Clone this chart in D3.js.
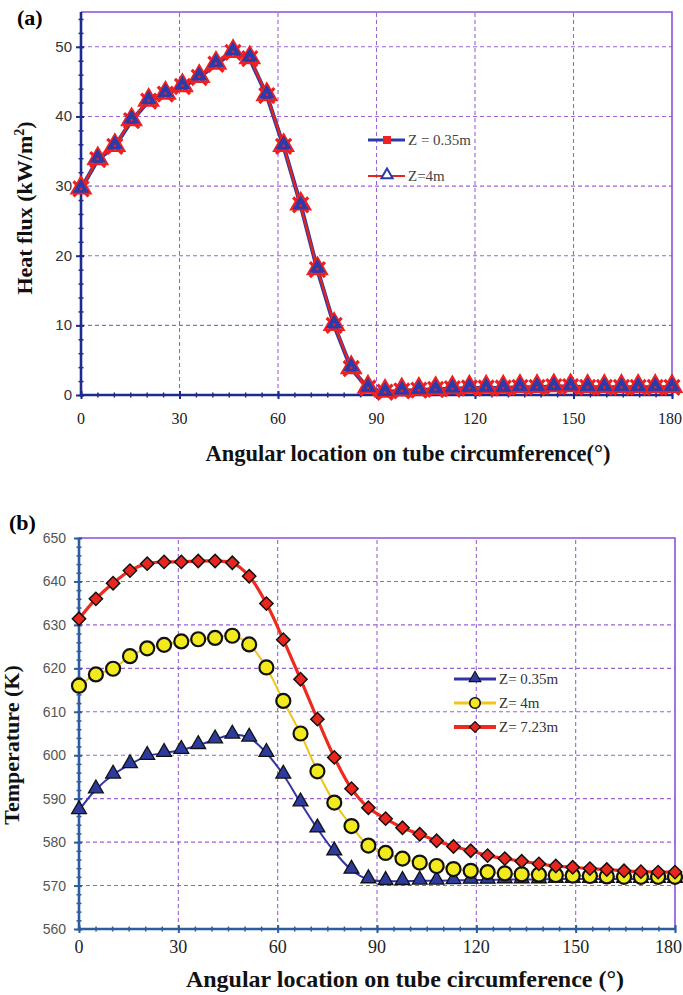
<!DOCTYPE html>
<html><head><meta charset="utf-8">
<script src="https://cdn.jsdelivr.net/npm/d3@7"></script>
<style>body{margin:0;background:#fff}</style>
</head><body>
<svg id="c" width="683" height="995"></svg>
<script>
// ---- data ----
const angles = [0, 5.1, 10.3, 15.4, 20.6, 25.7, 30.9, 36, 41.1, 46.3, 51.4, 56.6, 61.7, 66.9, 72, 77.1, 82.3, 87.4,
  92.6, 97.7, 102.9, 108, 113.1, 118.3, 123.4, 128.6, 133.7, 138.9, 144, 149.1, 154.3, 159.4, 164.6, 169.7, 174.9, 180];
const fluxZ035 = [29.6, 33.8, 35.7, 39.4, 42.2, 43.2, 44.3, 45.6, 47.5, 49.2, 48.3, 43.0, 35.7, 27.3, 18.0, 10.0, 3.8, 1.0,
  0.4, 0.6, 0.7, 0.8, 0.9, 1.0, 1.0, 1.0, 1.1, 1.1, 1.2, 1.2, 1.1, 1.1, 1.1, 1.1, 1.1, 1.1];
const fluxZ4 = [29.6, 33.9, 35.8, 39.5, 42.3, 43.3, 44.4, 45.7, 47.6, 49.3, 48.4, 43.1, 35.8, 27.2, 18.1, 10.1, 3.9, 1.0,
  0.4, 0.6, 0.7, 0.8, 0.9, 1.0, 1.0, 1.0, 1.1, 1.1, 1.2, 1.2, 1.1, 1.1, 1.1, 1.1, 1.1, 1.1];
const tempZ035 = [587.3, 592.1, 595.5, 597.9, 599.8, 600.5, 601.2, 602.3, 603.6, 604.7, 604.0, 600.5, 595.5, 589.1, 583.1,
  577.8, 573.6, 571.4, 571.0, 571.0, 571.1, 571.1, 571.2, 571.3, 571.3, 571.4, 571.4, 571.4, 571.5, 571.5, 571.5, 571.5,
  571.5, 571.5, 571.5, 571.5];
const tempZ4 = [616.0, 618.6, 619.9, 622.8, 624.6, 625.4, 626.2, 626.7, 627.0, 627.5, 625.5, 620.2, 612.5, 605.0, 596.3,
  589.1, 583.7, 579.2, 577.5, 576.2, 575.3, 574.5, 573.8, 573.4, 573.1, 572.8, 572.6, 572.5, 572.4, 572.3, 572.2, 572.1,
  572.0, 572.0, 572.0, 572.0];
const tempZ723 = [631.4, 636.0, 639.6, 642.5, 644.1, 644.5, 644.5, 644.7, 644.7, 644.3, 641.2, 634.9, 626.6, 617.5, 608.3,
  599.5, 592.3, 587.9, 585.4, 583.3, 581.8, 580.3, 579.0, 578.0, 576.9, 576.2, 575.6, 575.0, 574.5, 574.2, 573.9, 573.7,
  573.4, 573.2, 573.1, 573.1];
const xTickLabels = [0, 30, 60, 90, 120, 150, 180];
const yTicksA = [0, 10, 20, 30, 40, 50];
const yTicksB = [560, 570, 580, 590, 600, 610, 620, 630, 640, 650];
const legendA = ["Z = 0.35m", "Z=4m"];
const legendB = ["Z= 0.35m", "Z= 4m", "Z= 7.23m"];

const svg = d3.select("#c");
const serif = "'Liberation Serif','Times New Roman',serif";
const sans = "'Liberation Sans',Arial,sans-serif";
const gridCol = "#9a62d6";

function minorTicks(lo, hi, step) { return d3.range(lo, hi + 1e-9, step); }

function frame(x, y, axisCol, yMinorStep, yTicks, ytickStyle) {
  const g = svg.append("g");
  xTickLabels.slice(1, -1).forEach(t => g.append("line").attr("x1", x(t)).attr("x2", x(t))
    .attr("y1", y.range()[0]).attr("y2", y.range()[1]).attr("stroke", gridCol).attr("stroke-width", 1.1).attr("stroke-dasharray", "4,3"));
  yTicks.slice(1).forEach(t => { if (y(t) > y.range()[1] + 2) g.append("line").attr("x1", x.range()[0]).attr("x2", x.range()[1])
    .attr("y1", y(t)).attr("y2", y(t)).attr("stroke", gridCol).attr("stroke-width", 1.1).attr("stroke-dasharray", "4,3"); });
  g.append("path").attr("d", `M${x.range()[0]},${y.range()[1]}H${x.range()[1]}V${y.range()[0]}`)
    .attr("fill", "none").attr("stroke", "#8a50dc").attr("stroke-width", 1.6);
  const xa = svg.append("g").attr("transform", `translate(0,${y.range()[0]})`)
    .call(d3.axisBottom(x).tickValues(minorTicks(0, 180, 5)).tickSize(2.5).tickFormat(""));
  xa.selectAll(".tick line").attr("y1", -2.5).attr("stroke", axisCol).attr("stroke-width", 1.5);
  const xa2 = svg.append("g").attr("transform", `translate(0,${y.range()[0]})`)
    .call(d3.axisBottom(x).tickValues(xTickLabels).tickSize(4).tickFormat(""));
  xa2.selectAll(".tick line").attr("y1", -4).attr("stroke", axisCol).attr("stroke-width", 2);
  xa.select(".domain").remove(); xa2.select(".domain").remove();
  const ya = svg.append("g").attr("transform", `translate(${x.range()[0]},0)`)
    .call(d3.axisLeft(y).tickValues(minorTicks(y.domain()[0], y.domain()[1], yMinorStep)).tickSize(2.5).tickFormat(""));
  ya.selectAll(".tick line").attr("x1", 2.5).attr("stroke", axisCol).attr("stroke-width", 1.5);
  const ya2 = svg.append("g").attr("transform", `translate(${x.range()[0]},0)`)
    .call(d3.axisLeft(y).tickValues(yTicks).tickSize(5).tickFormat(""));
  ya2.selectAll(".tick line").attr("x1", 3).attr("stroke", axisCol).attr("stroke-width", 2);
  ya.select(".domain").remove(); ya2.select(".domain").remove();
  svg.append("line").attr("x1", x.range()[0]).attr("x2", x.range()[0]).attr("y1", y.range()[1]).attr("y2", y.range()[0] + 1)
    .attr("stroke", axisCol).attr("stroke-width", 2.6);
  svg.append("line").attr("x1", x.range()[0] - 1).attr("x2", x.range()[1]).attr("y1", y.range()[0]).attr("y2", y.range()[0])
    .attr("stroke", axisCol).attr("stroke-width", 2.6);
  yTicks.forEach(t => svg.append("text").attr("x", ytickStyle.x).attr("y", y(t) + ytickStyle.dy)
    .attr("text-anchor", "end").attr("font-family", sans).attr("font-size", ytickStyle.size)
    .attr("fill", ytickStyle.fill).text(t));
}

function xLabels(x, yPos, size) {
  xTickLabels.forEach(t => {
    const tx = svg.append("text").attr("x", x(t)).attr("y", yPos).attr("text-anchor", "middle")
      .attr("font-family", serif).attr("font-size", size).attr("fill", "#222").text(t);
    const w = tx.node().getComputedTextLength();
    if (x(t) + w / 2 > 682) tx.attr("x", 682 - w / 2);
  });
}

// ================= Panel (a) =================
const xA = d3.scaleLinear().domain([0, 180]).range([81, 672]);
const yA = d3.scaleLinear().domain([0, 55]).range([395, 12]);
frame(xA, yA, "#1d2b8e", 2, yTicksA, {x: 72, dy: 5, size: 15, fill: "#333"});
xLabels(xA, 424, 16);

const lineA = d3.line().x((d, i) => xA(angles[i])).y(d => yA(d));
svg.append("path").attr("d", lineA(fluxZ035)).attr("fill", "none").attr("stroke", "#2a3aa6").attr("stroke-width", 4.2);
svg.append("path").attr("d", lineA(fluxZ4)).attr("fill", "none").attr("stroke", "#e8231c").attr("stroke-width", 2.2);

const mA = svg.append("g");
const tri = d3.symbol().type(d3.symbolTriangle);
fluxZ035.forEach((v, i) => {
  const g = mA.append("g").attr("transform", `translate(${xA(angles[i])},${yA(v)})`);
  g.append("path").attr("d", d3.symbol().type(d3.symbolTimes).size(150)()).attr("stroke", "#f02020").attr("stroke-width", 3.2).attr("fill", "none");
  g.append("path").attr("d", tri.size(150)()).attr("transform", "translate(0,-1)").attr("stroke", "#f02020").attr("stroke-width", 2.5).attr("fill", "none");
});
fluxZ4.forEach((v, i) => {
  const g = mA.append("g").attr("transform", `translate(${xA(angles[i])},${yA(v)})`);
  g.append("path").attr("d", tri.size(95)()).attr("transform", "translate(0,-1)").attr("fill", "#2e3aa8").attr("stroke", "#2e3aa8").attr("stroke-width", 1);
  g.append("circle").attr("r", 1.3).attr("cy", 0).attr("fill", "#f02020");
});

const lgA = svg.append("g");
lgA.append("line").attr("x1", 368).attr("x2", 405).attr("y1", 140).attr("y2", 140).attr("stroke", "#2a3aa6").attr("stroke-width", 3.2);
lgA.append("rect").attr("x", 383).attr("y", 136).attr("width", 8).attr("height", 8).attr("fill", "#ee2222");
lgA.append("line").attr("x1", 368).attr("x2", 405).attr("y1", 176).attr("y2", 176).attr("stroke", "#e8231c").attr("stroke-width", 2.2);
lgA.append("path").attr("d", tri.size(55)()).attr("transform", "translate(387,175)").attr("fill", "#fff").attr("stroke", "#2a3aa6").attr("stroke-width", 2);
legendA.forEach((t, i) => lgA.append("text").attr("x", 408).attr("y", [145, 181][i]).attr("font-family", serif)
  .attr("font-size", 15).attr("fill", "#444").text(t));

svg.append("text").attr("x", 17).attr("y", 25).attr("font-family", serif).attr("font-weight", "bold").attr("font-size", 22).text("(a)");
const tyA = svg.append("text").attr("transform", "translate(32,208) rotate(-90)").attr("text-anchor", "middle")
  .attr("font-family", serif).attr("font-weight", "bold").attr("font-size", 22).attr("fill", "#111");
tyA.append("tspan").text("Heat flux (kW/m");
tyA.append("tspan").attr("font-size", 14).attr("dy", -8).text("2");
tyA.append("tspan").attr("dy", 8).text(")");
svg.append("text").attr("x", 408).attr("y", 461).attr("text-anchor", "middle").attr("font-family", serif)
  .attr("font-weight", "bold").attr("font-size", 22.5).attr("fill", "#111").text("Angular location on tube circumference(°)");

// ================= Panel (b) =================
const xB = d3.scaleLinear().domain([0, 180]).range([79, 675]);
const yB = d3.scaleLinear().domain([560, 650]).range([929, 538]);
frame(xB, yB, "#2c5d9e", 2, yTicksB, {x: 66, dy: 5, size: 14, fill: "#555"});
xLabels(xB, 953, 18);

const lineB = d3.line().x((d, i) => xB(angles[i])).y(d => yB(d)).curve(d3.curveCatmullRom);
const seriesB = [
  {vals: tempZ035, line: "#3434a8", w: 2, type: "tri"},
  {vals: tempZ4, line: "#f0c419", w: 2, type: "circ"},
  {vals: tempZ723, line: "#ee2a1e", w: 3.2, type: "dia"}
];
function markB(g, type) {
  if (type === "tri") g.append("path").attr("d", d3.symbol().type(d3.symbolTriangle).size(95)()).attr("transform", "translate(0,-1)")
    .attr("fill", "#2d3a9e").attr("stroke", "#111").attr("stroke-width", 1.3);
  else if (type === "circ") g.append("circle").attr("r", 7).attr("fill", "#f2ea1c").attr("stroke", "#111").attr("stroke-width", 2.2);
  else g.append("path").attr("d", d3.symbol().type(d3.symbolSquare).size(88)()).attr("transform", "rotate(45)")
    .attr("fill", "#e8261e").attr("stroke", "#111").attr("stroke-width", 1.5);
}
seriesB.forEach(s => {
  svg.append("path").attr("d", lineB(s.vals)).attr("fill", "none").attr("stroke", s.line).attr("stroke-width", s.w);
});
seriesB.forEach(s => {
  s.vals.forEach((v, i) => markB(svg.append("g").attr("transform", `translate(${xB(angles[i])},${yB(v)})`), s.type));
});

const rowsB = [679, 703, 727];
seriesB.forEach((s, i) => {
  svg.append("line").attr("x1", 454).attr("x2", 496).attr("y1", rowsB[i]).attr("y2", rowsB[i]).attr("stroke", s.line).attr("stroke-width", s.w + 1);
  const g = svg.append("g").attr("transform", `translate(475,${rowsB[i]}) scale(${s.type === "circ" ? 0.75 : 0.8})`);
  markB(g, s.type);
  svg.append("text").attr("x", 499).attr("y", rowsB[i] + 5).attr("font-family", serif).attr("font-size", 15)
    .attr("fill", "#333").text(legendB[i]);
});

svg.append("text").attr("x", 9).attr("y", 530).attr("font-family", serif).attr("font-weight", "bold").attr("font-size", 22).text("(b)");
svg.append("text").attr("transform", "translate(19,745) rotate(-90)").attr("text-anchor", "middle")
  .attr("font-family", serif).attr("font-weight", "bold").attr("font-size", 22).attr("fill", "#111").text("Temperature (K)");
svg.append("text").attr("x", 405).attr("y", 987).attr("text-anchor", "middle").attr("font-family", serif)
  .attr("font-weight", "bold").attr("font-size", 24).attr("fill", "#111").text("Angular location on tube circumference (°)");
</script>
</body></html>
